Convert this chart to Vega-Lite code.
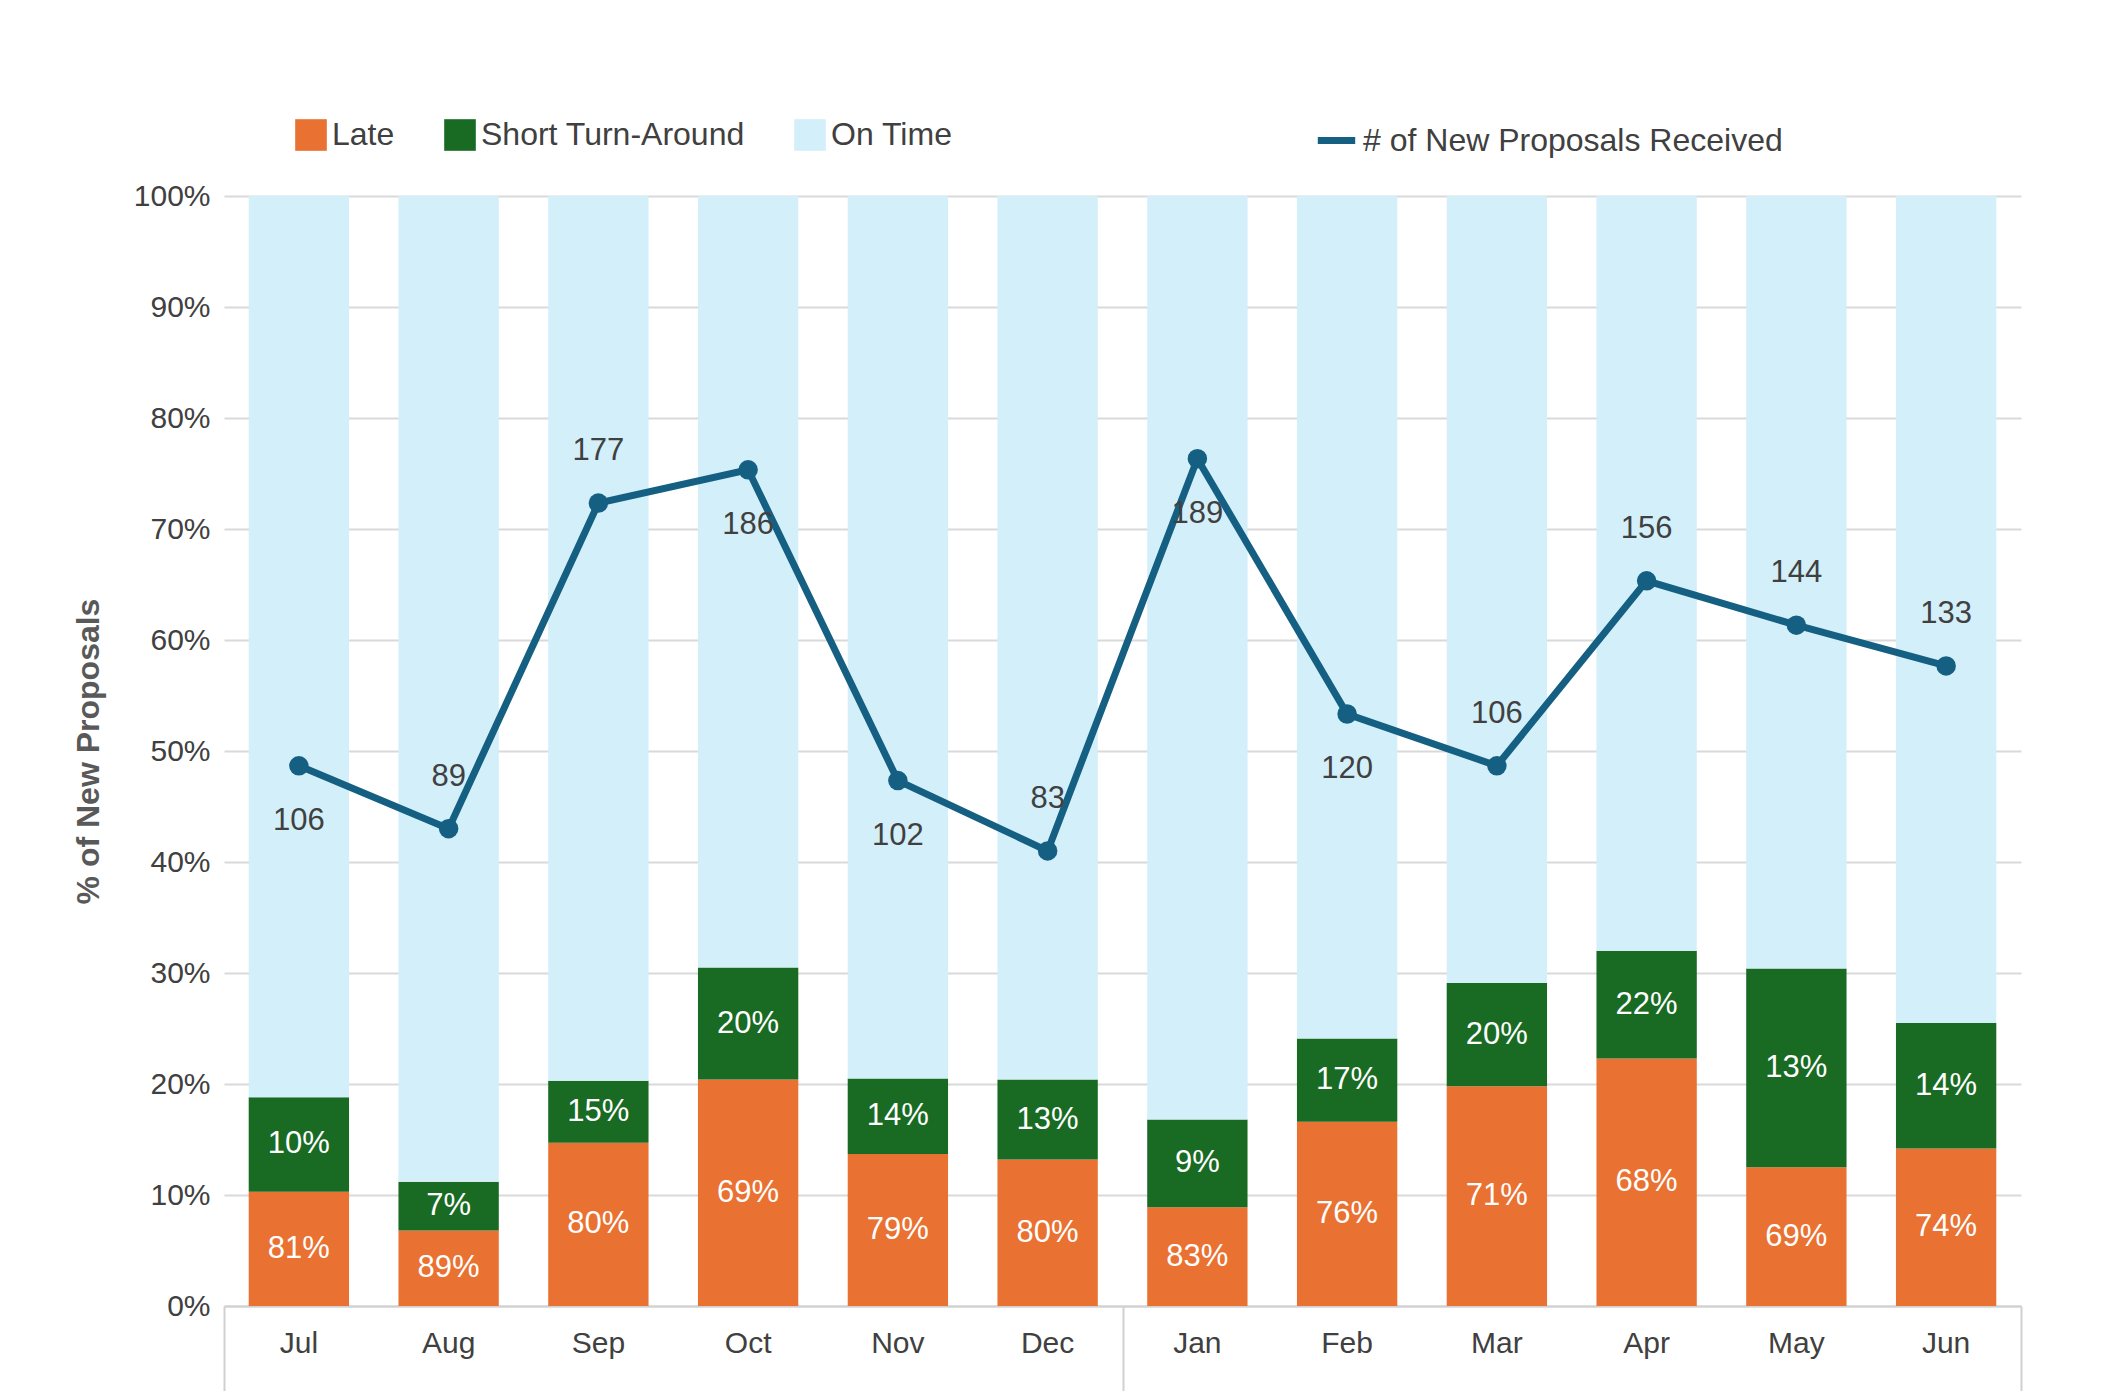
{
  "$schema": "https://vega.github.io/schema/vega-lite/v6.json",
  "width": 1797,
  "height": 1110,
  "padding": {"top": 118, "left": 72, "right": 5, "bottom": 0},
  "config": {
    "font": "Liberation Sans",
    "view": {"stroke": null},
    "axis": {"labelFontSize": 30, "labelColor": "#404040", "titleColor": "#595959"},
    "legend": {"labelFontSize": 32, "labelColor": "#404040", "direction": "horizontal", "title": null, "labelLimit": 0}
  },
  "datasets": {
    "bars": [
      {"mk": "2025-Jul", "cat": "Late", "ord": 1, "v": 0.103, "lab": "81%"},
      {"mk": "2025-Jul", "cat": "Short Turn-Around", "ord": 2, "v": 0.085, "lab": "10%"},
      {"mk": "2025-Jul", "cat": "On Time", "ord": 3, "v": 0.812, "lab": ""},
      {"mk": "2025-Aug", "cat": "Late", "ord": 1, "v": 0.068, "lab": "89%"},
      {"mk": "2025-Aug", "cat": "Short Turn-Around", "ord": 2, "v": 0.044, "lab": "7%"},
      {"mk": "2025-Aug", "cat": "On Time", "ord": 3, "v": 0.888, "lab": ""},
      {"mk": "2025-Sep", "cat": "Late", "ord": 1, "v": 0.147, "lab": "80%"},
      {"mk": "2025-Sep", "cat": "Short Turn-Around", "ord": 2, "v": 0.056, "lab": "15%"},
      {"mk": "2025-Sep", "cat": "On Time", "ord": 3, "v": 0.797, "lab": ""},
      {"mk": "2025-Oct", "cat": "Late", "ord": 1, "v": 0.204, "lab": "69%"},
      {"mk": "2025-Oct", "cat": "Short Turn-Around", "ord": 2, "v": 0.101, "lab": "20%"},
      {"mk": "2025-Oct", "cat": "On Time", "ord": 3, "v": 0.695, "lab": ""},
      {"mk": "2025-Nov", "cat": "Late", "ord": 1, "v": 0.137, "lab": "79%"},
      {"mk": "2025-Nov", "cat": "Short Turn-Around", "ord": 2, "v": 0.068, "lab": "14%"},
      {"mk": "2025-Nov", "cat": "On Time", "ord": 3, "v": 0.795, "lab": ""},
      {"mk": "2025-Dec", "cat": "Late", "ord": 1, "v": 0.132, "lab": "80%"},
      {"mk": "2025-Dec", "cat": "Short Turn-Around", "ord": 2, "v": 0.072, "lab": "13%"},
      {"mk": "2025-Dec", "cat": "On Time", "ord": 3, "v": 0.796, "lab": ""},
      {"mk": "2026-Jan", "cat": "Late", "ord": 1, "v": 0.089, "lab": "83%"},
      {"mk": "2026-Jan", "cat": "Short Turn-Around", "ord": 2, "v": 0.079, "lab": "9%"},
      {"mk": "2026-Jan", "cat": "On Time", "ord": 3, "v": 0.832, "lab": ""},
      {"mk": "2026-Feb", "cat": "Late", "ord": 1, "v": 0.166, "lab": "76%"},
      {"mk": "2026-Feb", "cat": "Short Turn-Around", "ord": 2, "v": 0.075, "lab": "17%"},
      {"mk": "2026-Feb", "cat": "On Time", "ord": 3, "v": 0.759, "lab": ""},
      {"mk": "2026-Mar", "cat": "Late", "ord": 1, "v": 0.198, "lab": "71%"},
      {"mk": "2026-Mar", "cat": "Short Turn-Around", "ord": 2, "v": 0.093, "lab": "20%"},
      {"mk": "2026-Mar", "cat": "On Time", "ord": 3, "v": 0.709, "lab": ""},
      {"mk": "2026-Apr", "cat": "Late", "ord": 1, "v": 0.223, "lab": "68%"},
      {"mk": "2026-Apr", "cat": "Short Turn-Around", "ord": 2, "v": 0.097, "lab": "22%"},
      {"mk": "2026-Apr", "cat": "On Time", "ord": 3, "v": 0.680, "lab": ""},
      {"mk": "2026-May", "cat": "Late", "ord": 1, "v": 0.125, "lab": "69%"},
      {"mk": "2026-May", "cat": "Short Turn-Around", "ord": 2, "v": 0.179, "lab": "13%"},
      {"mk": "2026-May", "cat": "On Time", "ord": 3, "v": 0.696, "lab": ""},
      {"mk": "2026-Jun", "cat": "Late", "ord": 1, "v": 0.142, "lab": "74%"},
      {"mk": "2026-Jun", "cat": "Short Turn-Around", "ord": 2, "v": 0.113, "lab": "14%"},
      {"mk": "2026-Jun", "cat": "On Time", "ord": 3, "v": 0.745, "lab": ""}
    ],
    "line": [
      {"mk": "2025-Jul", "n": 106, "pos": "below"},
      {"mk": "2025-Aug", "n": 89, "pos": "above"},
      {"mk": "2025-Sep", "n": 177, "pos": "above"},
      {"mk": "2025-Oct", "n": 186, "pos": "below"},
      {"mk": "2025-Nov", "n": 102, "pos": "below"},
      {"mk": "2025-Dec", "n": 83, "pos": "above"},
      {"mk": "2026-Jan", "n": 189, "pos": "below"},
      {"mk": "2026-Feb", "n": 120, "pos": "below"},
      {"mk": "2026-Mar", "n": 106, "pos": "above"},
      {"mk": "2026-Apr", "n": 156, "pos": "above"},
      {"mk": "2026-May", "n": 144, "pos": "above"},
      {"mk": "2026-Jun", "n": 133, "pos": "above"}
    ],
    "years": [{"year": "2025"}, {"year": "2026"}]
  },
  "resolve": {"scale": {"x": "independent", "y": "independent", "color": "independent"}},
  "layer": [
    {
      "data": {"name": "bars"},
      "mark": {"type": "bar"},
      "encoding": {
        "x": {"field": "mk", "type": "nominal", "sort": null, "title": null,
              "scale": {"paddingInner": 0.33, "paddingOuter": 0.165},
              "axis": {"labelExpr": "split(datum.value, '-')[1]", "labelAngle": 0, "ticks": false, "labelPadding": 22, "domainColor": "#d0d0d0", "domainWidth": 2, "labelFontSize": 30}},
        "y": {"field": "v", "type": "quantitative", "stack": "zero", "title": "% of  New Proposals",
              "scale": {"domain": [0, 1]},
              "axis": {"format": ".0%", "tickCount": 10, "gridColor": "#d9d9d9", "gridWidth": 2, "domain": false, "ticks": false, "labelPadding": 14, "titleFontSize": 32, "titleFontWeight": "bold", "titlePadding": 28}},
        "color": {"field": "cat", "type": "nominal", "title": null,
                  "scale": {"domain": ["Late", "Short Turn-Around", "On Time"], "range": ["#E97132", "#196B24", "#D3EFFA"]},
                  "legend": {"orient": "none", "legendX": 70, "legendY": -78, "symbolType": "square", "symbolSize": 1000, "columnPadding": 48}},
        "order": {"field": "ord"}
      }
    },
    {
      "data": {"name": "bars"},
      "transform": [
        {"stack": "v", "groupby": ["mk"], "sort": [{"field": "ord"}], "as": ["y0", "y1"]},
        {"filter": "datum.cat != 'On Time'"},
        {"calculate": "(datum.y0 + datum.y1) / 2", "as": "mid"}
      ],
      "mark": {"type": "text", "color": "white", "fontSize": 31},
      "encoding": {
        "x": {"field": "mk", "type": "nominal", "sort": null, "axis": null, "scale": {"paddingInner": 0.33, "paddingOuter": 0.165}},
        "y": {"field": "mid", "type": "quantitative", "scale": {"domain": [0, 1]}, "axis": null},
        "text": {"field": "lab"}
      }
    },
    {
      "data": {"name": "line"},
      "layer": [
        {
          "mark": {"type": "line", "strokeWidth": 7, "color": "#156082"},
          "encoding": {
            "stroke": {"datum": "# of New Proposals Received", "type": "nominal",
                       "scale": {"range": ["#156082"]},
                       "legend": {"orient": "none", "legendX": 1090, "legendY": -78, "symbolType": "stroke", "symbolStrokeWidth": 7, "symbolSize": 1400}}
          }
        },
        {"mark": {"type": "point", "filled": true, "size": 380, "color": "#156082", "opacity": 1}, "encoding": {}},
        {"transform": [{"filter": "datum.pos == 'above'"}], "mark": {"type": "text", "dy": -52, "fontSize": 31, "color": "#404040"}, "encoding": {"text": {"field": "n"}}},
        {"transform": [{"filter": "datum.pos == 'below'"}], "mark": {"type": "text", "dy": 55, "fontSize": 31, "color": "#404040"}, "encoding": {"text": {"field": "n"}}}
      ],
      "encoding": {
        "x": {"field": "mk", "type": "nominal", "sort": null, "axis": null, "scale": {"paddingInner": 0.33, "paddingOuter": 0.165}},
        "y": {"field": "n", "type": "quantitative", "scale": {"domain": [-40, 260], "nice": false, "zero": false}, "axis": null}
      }
    },
    {
      "data": {"name": "years"},
      "mark": {"type": "text", "fontSize": 30, "color": "#404040", "dy": 133},
      "encoding": {
        "x": {"field": "year", "type": "nominal", "title": null,
              "scale": {"paddingInner": 0, "paddingOuter": 0},
              "axis": {"orient": "bottom", "labels": false, "tickSize": 158, "tickBand": "extent", "tickColor": "#d0d0d0", "tickWidth": 2, "domain": false}},
        "y": {"datum": 0, "type": "quantitative", "scale": {"domain": [0, 1]}, "axis": null},
        "text": {"field": "year"}
      }
    }
  ]
}
